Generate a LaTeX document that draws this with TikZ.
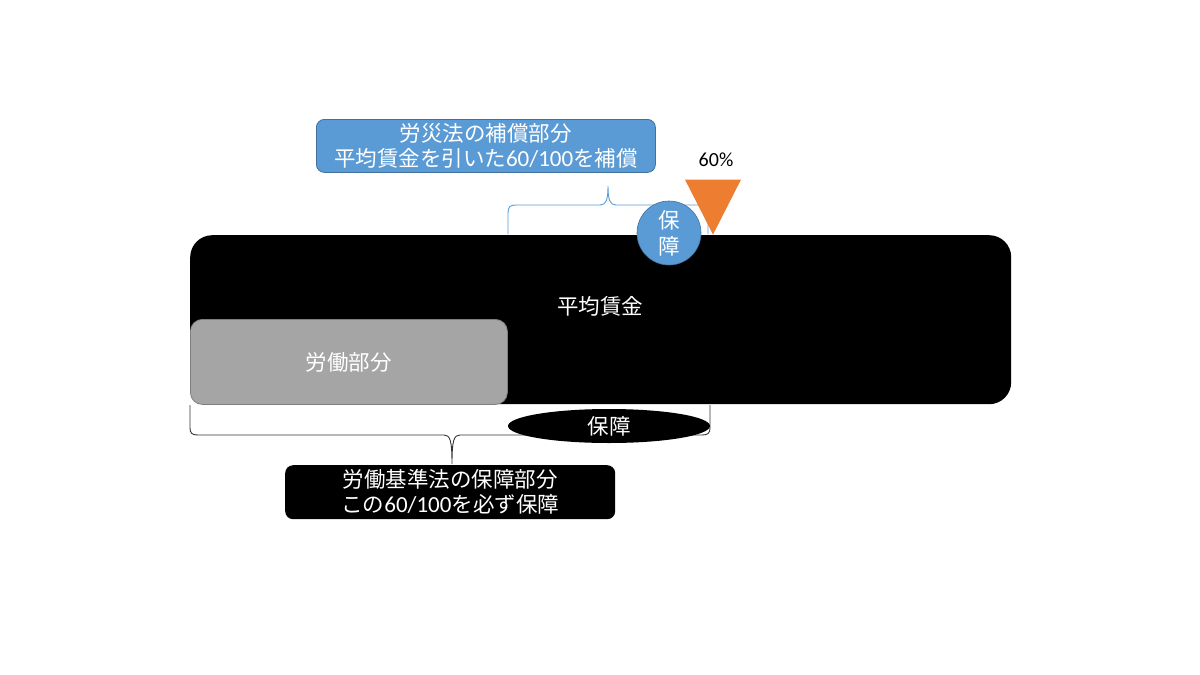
\documentclass[tikz,border=0pt]{standalone}
\usepackage{fontspec}
\setmainfont{Noto Sans CJK JP}
\newfontfamily\latf{Carlito}
\usetikzlibrary{shapes.geometric}
\definecolor{blueA}{HTML}{5B9BD5}
\definecolor{blueB}{HTML}{41719C}
\definecolor{orangeA}{HTML}{ED7D31}
\definecolor{grayA}{HTML}{A5A5A5}
\definecolor{grayB}{HTML}{7F7F7F}
\begin{document}
\begin{tikzpicture}[x=1pt,y=-1pt,
  jp/.style={font=\fontsize{21.5}{25}\selectfont, text=white, align=center},
  box/.style={rounded corners=8pt, inner sep=0pt, jp}]
\useasboundingbox[fill=white] (0,0) rectangle (1200,675);
% main black bar
\node[box, fill=black, rounded corners=22pt, minimum width=821pt, minimum height=169pt, anchor=north west] (bar) at (190,235) {};
\node[jp] (avg) at (600,306) {平均賃金};
% gray labour part
\node[box, fill=grayA, draw=grayB, line width=0.8pt, rounded corners=12pt, minimum width=317pt, minimum height=85pt, anchor=north west] (labour) at (190,319) {労働部分};
% blue top box
\node[box, fill=blueA, draw=blueB, line width=0.8pt, minimum width=339pt, minimum height=53pt, anchor=north west] (rosai) at (316,119) {労災法の補償部分\\平均賃金を引いた{\latf\fontsize{23}{25}\selectfont 60/100}を補償};
% blue brace
\draw[blueA, line width=0.9pt] (508,234) -- (508,213) .. controls (508,207) and (510,205) .. (516,205) -- (600,205) .. controls (606,205) and (608,200) .. (608,186)
  .. controls (608,200) and (610,205) .. (616,205) -- (700,205) .. controls (706,205) and (708,207) .. (708,213) -- (708,234);
% orange triangle
\node[isosceles triangle, isosceles triangle apex angle=54, shape border rotate=-90, fill=orangeA, inner sep=0pt, minimum height=55pt, anchor=apex] (tri) at (713,235) {};
\node[font=\latf\fontsize{20}{22}\selectfont] (pct) at (716,160) {60\%};
% blue circle
\node[circle, fill=blueA, draw=blueB, line width=0.6pt, minimum size=64pt, inner sep=0pt, jp, font=\fontsize{21.5}{26}\selectfont] (circ) at (669,233) {保\\障};
% black bottom brace
\draw[black!80, line width=0.9pt] (190,405) -- (190,428) .. controls (190,433) and (192,435) .. (198,435) -- (444,435) .. controls (450,435) and (452,440) .. (452,464)
  .. controls (452,440) and (454,435) .. (460,435) -- (702,435) .. controls (708,435) and (710,433) .. (710,428) -- (710,405);
% black ellipse
\node[ellipse, fill=black, minimum width=202pt, minimum height=34pt, inner sep=0pt, jp] (ell) at (609,426) {保障};
% bottom black box
\node[box, fill=black, minimum width=330pt, minimum height=54pt, anchor=north west] (lsa) at (285,465) {労働基準法の保障部分\\この{\latf\fontsize{23}{25}\selectfont 60/100}を必ず保障};
\end{tikzpicture}
\end{document}
